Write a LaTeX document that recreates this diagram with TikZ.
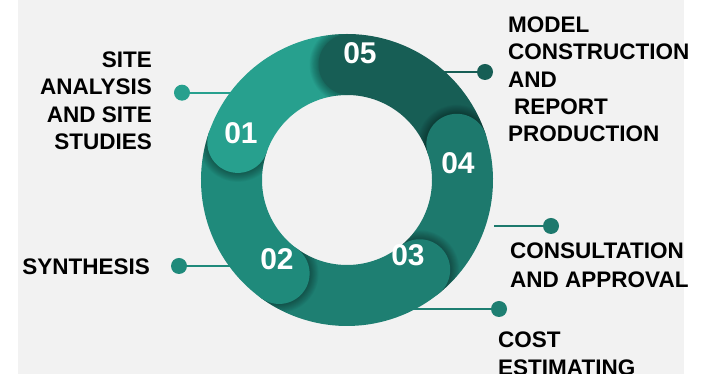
\documentclass[tikz,border=0pt]{standalone}
\usepackage{fontspec}
\setmainfont{Liberation Sans}
\begin{document}
\begin{tikzpicture}[x=1pt,y=1pt,
  lbl/.style={font=\fontsize{22.5}{27.3}\selectfont\bfseries, inner sep=0pt, text=black},
  num/.style={font=\fontsize{30}{30}\selectfont\bfseries, text=white, inner sep=0pt},
  dotnode/.style={circle, inner sep=0pt, minimum size=16pt},
  link/.style={line width=2pt}
]
\definecolor{bg}{HTML}{F2F2F2}
\definecolor{cA}{HTML}{27A08E}
\definecolor{cB}{HTML}{1F8A7B}
\definecolor{cC}{HTML}{1E7F72}
\definecolor{cD}{HTML}{1D796D}
\definecolor{cE}{HTML}{175E55}

\useasboundingbox (0,0) rectangle (713,374);
\clip (0,0) rectangle (713,374);
\fill[white] (0,0) rectangle (713,374);
\fill[bg] (18,0) rectangle (684,374);

% connector dots and their free ends
\node[dotnode, fill=cA] (d1) at (182,281.3) {};
\coordinate (e1) at (250,281.3);
\node[dotnode, fill=cB] (d2) at (179,108) {};
\coordinate (e2) at (250,108);
\node[dotnode, fill=cE] (d5) at (485,302) {};
\coordinate (e5) at (430,302);
\node[dotnode, fill=cD] (dc) at (551,148) {};
\coordinate (ec) at (494,148);
\node[dotnode, fill=cC] (dk) at (499,65) {};
\coordinate (ek) at (400,65);

\draw[link, cA] (d1) -- (e1);
\draw[link, cB] (d2) -- (e2);
\draw[link, cE] (e5) -- (d5);
\draw[link, cD] (ec) -- (dc);
\draw[link, cC] (ek) -- (dk);

% the ring: five sectors, each opened by a rounded cap
\begin{scope}[shift={(347,194)}]
  \foreach \a/\b/\c in {161/89/cA, 89/18/cE, 18/-51/cD, -51/-126/cC, 234/161/cB} {
    \fill[\c] (\a:146) arc[start angle=\a, end angle=\b, radius=146pt]
      -- (\b:85) arc[start angle=\b, end angle=\a, radius=85pt] -- cycle;
  }
  \foreach \t/\c in {161/cA, 234/cB, -51/cC, 18/cD, 89/cE} {
    \begin{scope}
      % soft shadow of the cap, kept on the ring and behind the cap
      \clip (146,0) arc[start angle=0, end angle=360, radius=146pt]
        -- (85,0) arc[start angle=360, end angle=0, radius=85pt] -- cycle;
      \begin{scope}[rotate=\t]
        \clip (0,0) rectangle (200,70);
        \foreach \i in {1,...,10}
          \fill[black, fill opacity=0.035] (115.5,0) circle[radius={(30.5+0.9*\i)*1pt}];
      \end{scope}
    \end{scope}
    \fill[\c] (\t:115.5) circle[radius=30.5pt];
  }
\end{scope}

% step numbers
\node[num] (n1) at (241,241) {01};
\node[num] (n2) at (277,115) {02};
\node[num] (n3) at (408,119) {03};
\node[num] (n4) at (458,211) {04};
\node[num] (n5) at (360,321) {05};

% step labels
\node[lbl, anchor=north east, align=right] (lsite) at (152,322.3)
  {SITE\\ANALYSIS\\AND SITE\\STUDIES};
\node[lbl, anchor=base east] (lsyn) at (150,99.7) {SYNTHESIS};
\node[lbl, anchor=north west, align=left] (lmodel) at (508,357.3)
  {MODEL\\CONSTRUCTION\\AND\\\hspace*{6pt}REPORT\\PRODUCTION};
\node[lbl, anchor=north west, align=left, font=\fontsize{22.5}{28.4}\selectfont\bfseries] (lcons) at (510,131)
  {CONSULTATION\\AND APPROVAL};
\node[lbl, anchor=north west, align=left] (lcost) at (498,42)
  {COST\\ESTIMATING};
\end{tikzpicture}
\end{document}
